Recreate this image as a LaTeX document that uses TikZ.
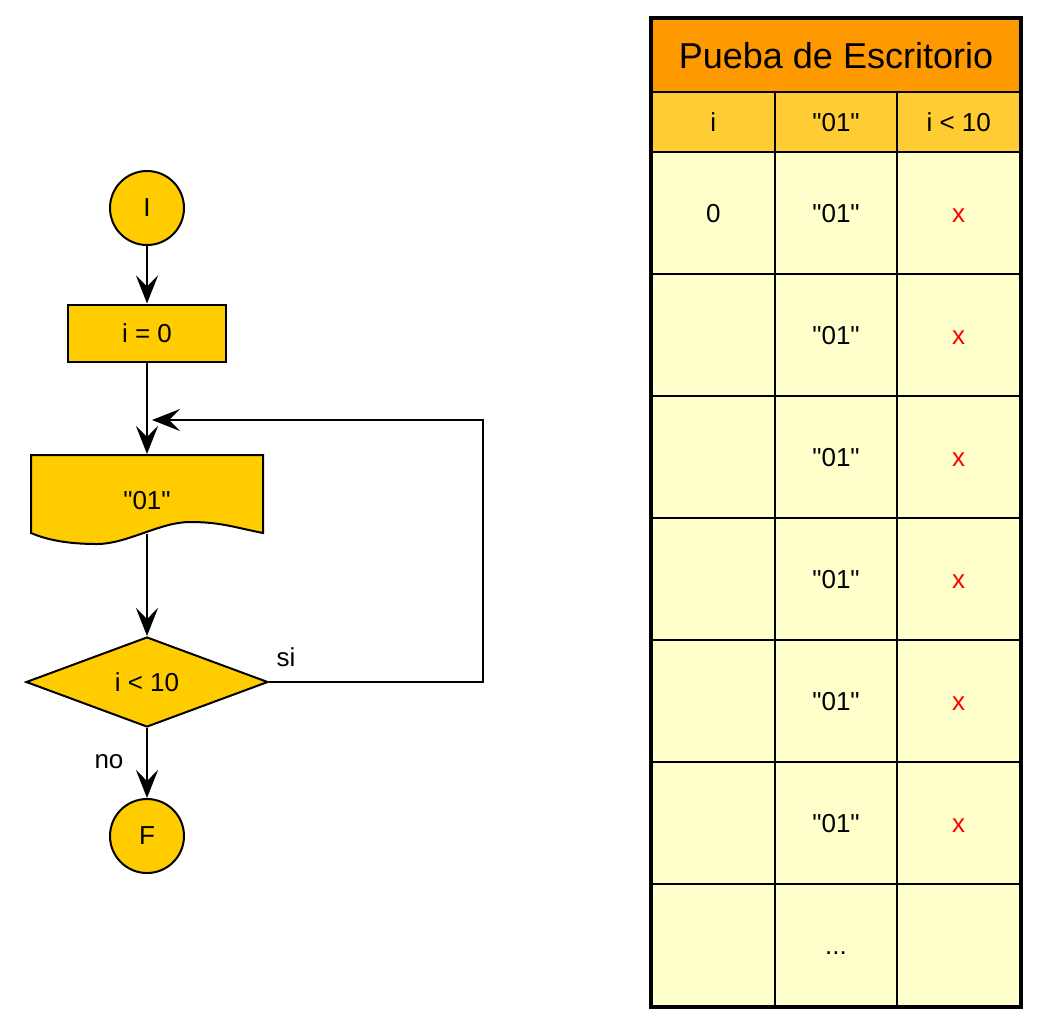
\documentclass[tikz,border=0pt]{standalone}
\usepackage{fontspec}
\newfontfamily\arial{Liberation Sans}
\usepackage{xcolor}
\usetikzlibrary{shapes.geometric, arrows.meta}

\definecolor{amarillo}{HTML}{FFCC00}
\definecolor{naranja}{HTML}{FF9900}
\definecolor{dorado}{HTML}{FFCC33}
\definecolor{crema}{HTML}{FFFFCC}

\begin{document}
\begin{tikzpicture}[x=1pt, y=-1pt, line width=2pt,
  every node/.style={font=\arial\fontsize{26}{30}\selectfont},
  terminal/.style={circle, draw, fill=amarillo, minimum size=74pt, inner sep=0pt},
  proceso/.style={rectangle, draw, fill=amarillo, minimum width=158pt, minimum height=57pt},
  decision/.style={diamond, draw, fill=amarillo, aspect=2.7, minimum width=242pt, minimum height=90pt, inner sep=0pt},
  flecha/.style={-{Stealth[length=28pt, width=22pt, inset=11pt]}},
  celda/.style={draw, anchor=north west, minimum width=122.67pt, inner sep=0pt, text height=19pt, text depth=0pt}]

\useasboundingbox (0,0) rectangle (1048,1026);

% Diagrama de flujo
\node (ini) at (147,208) [terminal] {I};
\node (asig) at (147,333) [proceso] {i = 0};

% documento (borde ondulado)
\draw[fill=amarillo] (31,533) -- (31,455) -- (263,455) -- (263,533)
  .. controls (233,527) and (220,522) .. (190,522)
  .. controls (160,522) and (127,544) .. (97,544)
  .. controls (65,544) and (45,539) .. (31,533) -- cycle;
\node (doc) at (147,494) [minimum width=232pt, minimum height=78pt, text height=31pt, text depth=0pt] {"01"};

\node (cond) at (147,682) [decision] {i < 10};
\node (fin) at (147,836) [terminal] {F};

\coordinate (retorno) at (152,420);
\coordinate (esquina) at (483,420);

% flechas
\draw[flecha] (ini) -- (asig);
\draw[flecha] (asig) -- (doc.north);
\draw[flecha] (doc.south) -- (cond);
\draw[flecha] (cond) -- (fin);
\draw[flecha] (cond.east) -| (esquina) -- (retorno);

\node (si) at (286,657) {si};
\node (no) at (109,762) {no};

% Prueba de escritorio
\node (titulo) at (651,18) [celda, fill=naranja, minimum width=368pt, minimum height=73pt,
  text height=26pt, font=\arial\fontsize{36}{40}\selectfont] {Pueba de Escritorio};

\foreach \t [count=\c] in {i, "01", i < 10}
  \node (h\c) at ({651+122.67*(\c-1)},91) [celda, fill=dorado, minimum height=60pt] {\t};

\foreach \f in {1,...,7}{
  \pgfmathsetmacro\ytop{151+122*(\f-1)}
  \node (c\f-1) at (651,\ytop) [celda, fill=crema, minimum height=122pt] {\ifnum\f=1 0\fi};
  \node (c\f-2) at (773.67,\ytop) [celda, fill=crema, minimum height=122pt] {\ifnum\f<7 "01"\else ...\fi};
  \node (c\f-3) at (896.33,\ytop) [celda, fill=crema, minimum height=122pt] {\ifnum\f<7 \textcolor{red}{x}\fi};
}

\draw[line width=3.5pt] (titulo.north west) rectangle (c7-3.south east);

\end{tikzpicture}
\end{document}
